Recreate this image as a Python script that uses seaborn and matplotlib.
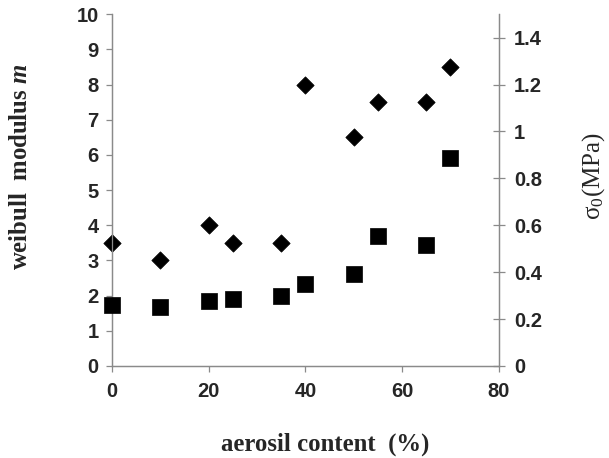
import numpy as np
import pandas as pd
import matplotlib
matplotlib.use("Agg")
import matplotlib.pyplot as plt
import seaborn as sns

# aerosil content (%) and measured values
aerosil = [0, 10, 20, 25, 35, 40, 50, 55, 65, 70]
weibull_m = [3.5, 3.0, 4.0, 3.5, 3.5, 8.0, 6.5, 7.5, 7.5, 8.5]
sigma0 = [0.26, 0.25, 0.275, 0.285, 0.30, 0.35, 0.39, 0.555, 0.515, 0.885]

df = pd.DataFrame({"aerosil": aerosil, "m": weibull_m, "sigma0": sigma0})

sns.set_style("white")
plt.rcParams["mathtext.fontset"] = "custom"
plt.rcParams["mathtext.rm"] = "Liberation Serif"
plt.rcParams["mathtext.it"] = "Liberation Serif:italic:bold"
plt.rcParams["mathtext.bf"] = "Liberation Serif:bold"

fig = plt.figure(figsize=(6.09, 4.58), dpi=100)
ax = fig.add_axes([0.184, 0.201, 0.635, 0.768])
ax2 = ax.twinx()

# weibull modulus - diamonds (left axis)
sns.scatterplot(data=df, x="aerosil", y="m", marker="D", s=78, color="black",
                edgecolor="black", linewidth=0.5, ax=ax, zorder=3, clip_on=False)
# sigma0 - squares (right axis)
sns.scatterplot(data=df, x="aerosil", y="sigma0", marker="s", s=125, color="black",
                edgecolor="black", linewidth=0.5, ax=ax2, zorder=3, clip_on=False)

ax.set_xlim(0, 80)
ax.set_ylim(0, 10)
ax2.set_ylim(0, 1.5)
ax.set_xticks([0, 20, 40, 60, 80])
ax.set_yticks(range(0, 11))
ax2.set_yticks([0, 0.2, 0.4, 0.6, 0.8, 1.0, 1.2, 1.4])
ax2.set_yticklabels(["0", "0.2", "0.4", "0.6", "0.8", "1", "1.2", "1.4"])

spine_col = "#8a8a8a"
for a in (ax, ax2):
    a.spines["top"].set_visible(False)
    for side in ("left", "right", "bottom"):
        a.spines[side].set_color(spine_col)
        a.spines[side].set_linewidth(0.9)

ax.tick_params(axis="y", direction="out", length=4.5, width=0.9, color=spine_col, pad=5,
               labelsize=14.5, left=True)
ax.tick_params(axis="x", direction="out", length=4.5, width=0.9, color=spine_col, pad=7,
               labelsize=14.5, bottom=True)
ax2.tick_params(axis="y", direction="inout", length=8, width=0.9, color=spine_col, pad=7,
                labelsize=14.5, right=True)
for lab in ax.get_xticklabels() + ax.get_yticklabels() + ax2.get_yticklabels():
    lab.set_fontweight("bold")
    lab.set_family("Liberation Sans")

ax.set_xlabel("aerosil content  (%)", family="Liberation Serif", fontweight="bold", fontsize=17.8)
ax.set_ylabel(r"weibull  modulus $\mathit{m}$", family="Liberation Serif", fontweight="bold", fontsize=17.8)
ax2.set_ylabel("σ$_0$(MPa)", family="Liberation Serif", fontsize=18)
ax.xaxis.set_label_coords(0.55, -0.19)
ax.yaxis.set_label_coords(-0.207, 0.565)
ax2.yaxis.set_label_coords(1.21, 0.54)

fig.savefig("out.png", dpi=100)
